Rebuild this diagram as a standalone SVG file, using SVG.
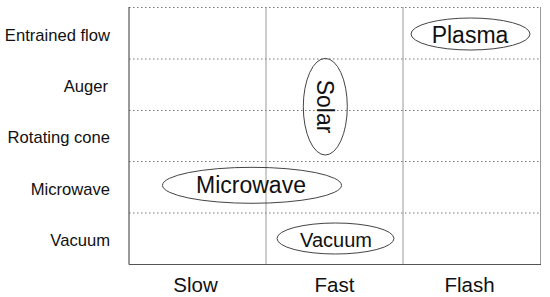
<svg xmlns="http://www.w3.org/2000/svg" width="550" height="297" viewBox="0 0 550 297">
<style>
text{font-family:"Liberation Sans",Arial,sans-serif;fill:#111}
.row{font-size:16.6px;text-anchor:end}
.col{font-size:20.5px;text-anchor:middle}
.lbl{text-anchor:middle}
.dot{stroke:#777;stroke-width:1;stroke-dasharray:1.5 2.5;fill:none}
.vl{stroke:#999;stroke-width:1;fill:none}
.ax{stroke:#555;stroke-width:1.2;fill:none}
.el{fill:none;stroke:#444;stroke-width:1}
</style>
<rect width="550" height="297" fill="#fff"/>
<g id="grid">
<line class="dot" x1="129" y1="7.5" x2="540" y2="7.5"/>
<line class="dot" x1="129" y1="59" x2="540" y2="59"/>
<line class="dot" x1="129" y1="110.5" x2="540" y2="110.5"/>
<line class="dot" x1="129" y1="161.5" x2="540" y2="161.5"/>
<line class="dot" x1="129" y1="213" x2="540" y2="213"/>
<line class="vl" x1="266" y1="7" x2="266" y2="264"/>
<line class="vl" x1="403" y1="7" x2="403" y2="264"/>
<line class="vl" x1="540.5" y1="7" x2="540.5" y2="264"/>
<line class="ax" x1="129" y1="7" x2="129" y2="264.5"/>
<line class="ax" x1="129" y1="264.5" x2="541" y2="264.5"/>
</g>
<g id="row-labels">
<text class="row" x="110" y="40.5">Entrained flow</text>
<text class="row" x="108" y="91.5">Auger</text>
<text class="row" x="110" y="143">Rotating cone</text>
<text class="row" x="110" y="195">Microwave</text>
<text class="row" x="110" y="245.5">Vacuum</text>
</g>
<g id="col-labels">
<text class="col" x="195.5" y="291.5">Slow</text>
<text class="col" x="334.5" y="291.5">Fast</text>
<text class="col" x="469.5" y="291.5">Flash</text>
</g>
<g id="plasma">
<ellipse class="el" cx="470.5" cy="34" rx="59.5" ry="16"/>
<text class="lbl" x="470" y="42.5" font-size="23">Plasma</text>
</g>
<g id="solar">
<ellipse class="el" cx="325.3" cy="106.7" rx="22" ry="48.3"/>
<text class="lbl" x="0" y="0" font-size="23" transform="translate(317 106.5) rotate(90)">Solar</text>
</g>
<g id="microwave">
<ellipse class="el" cx="252" cy="185.3" rx="89.5" ry="18"/>
<text class="lbl" x="251" y="193.3" font-size="23">Microwave</text>
</g>
<g id="vacuum">
<ellipse class="el" cx="335.5" cy="238.5" rx="58.5" ry="15.5"/>
<text class="lbl" x="336" y="246.5" font-size="20">Vacuum</text>
</g>
</svg>
